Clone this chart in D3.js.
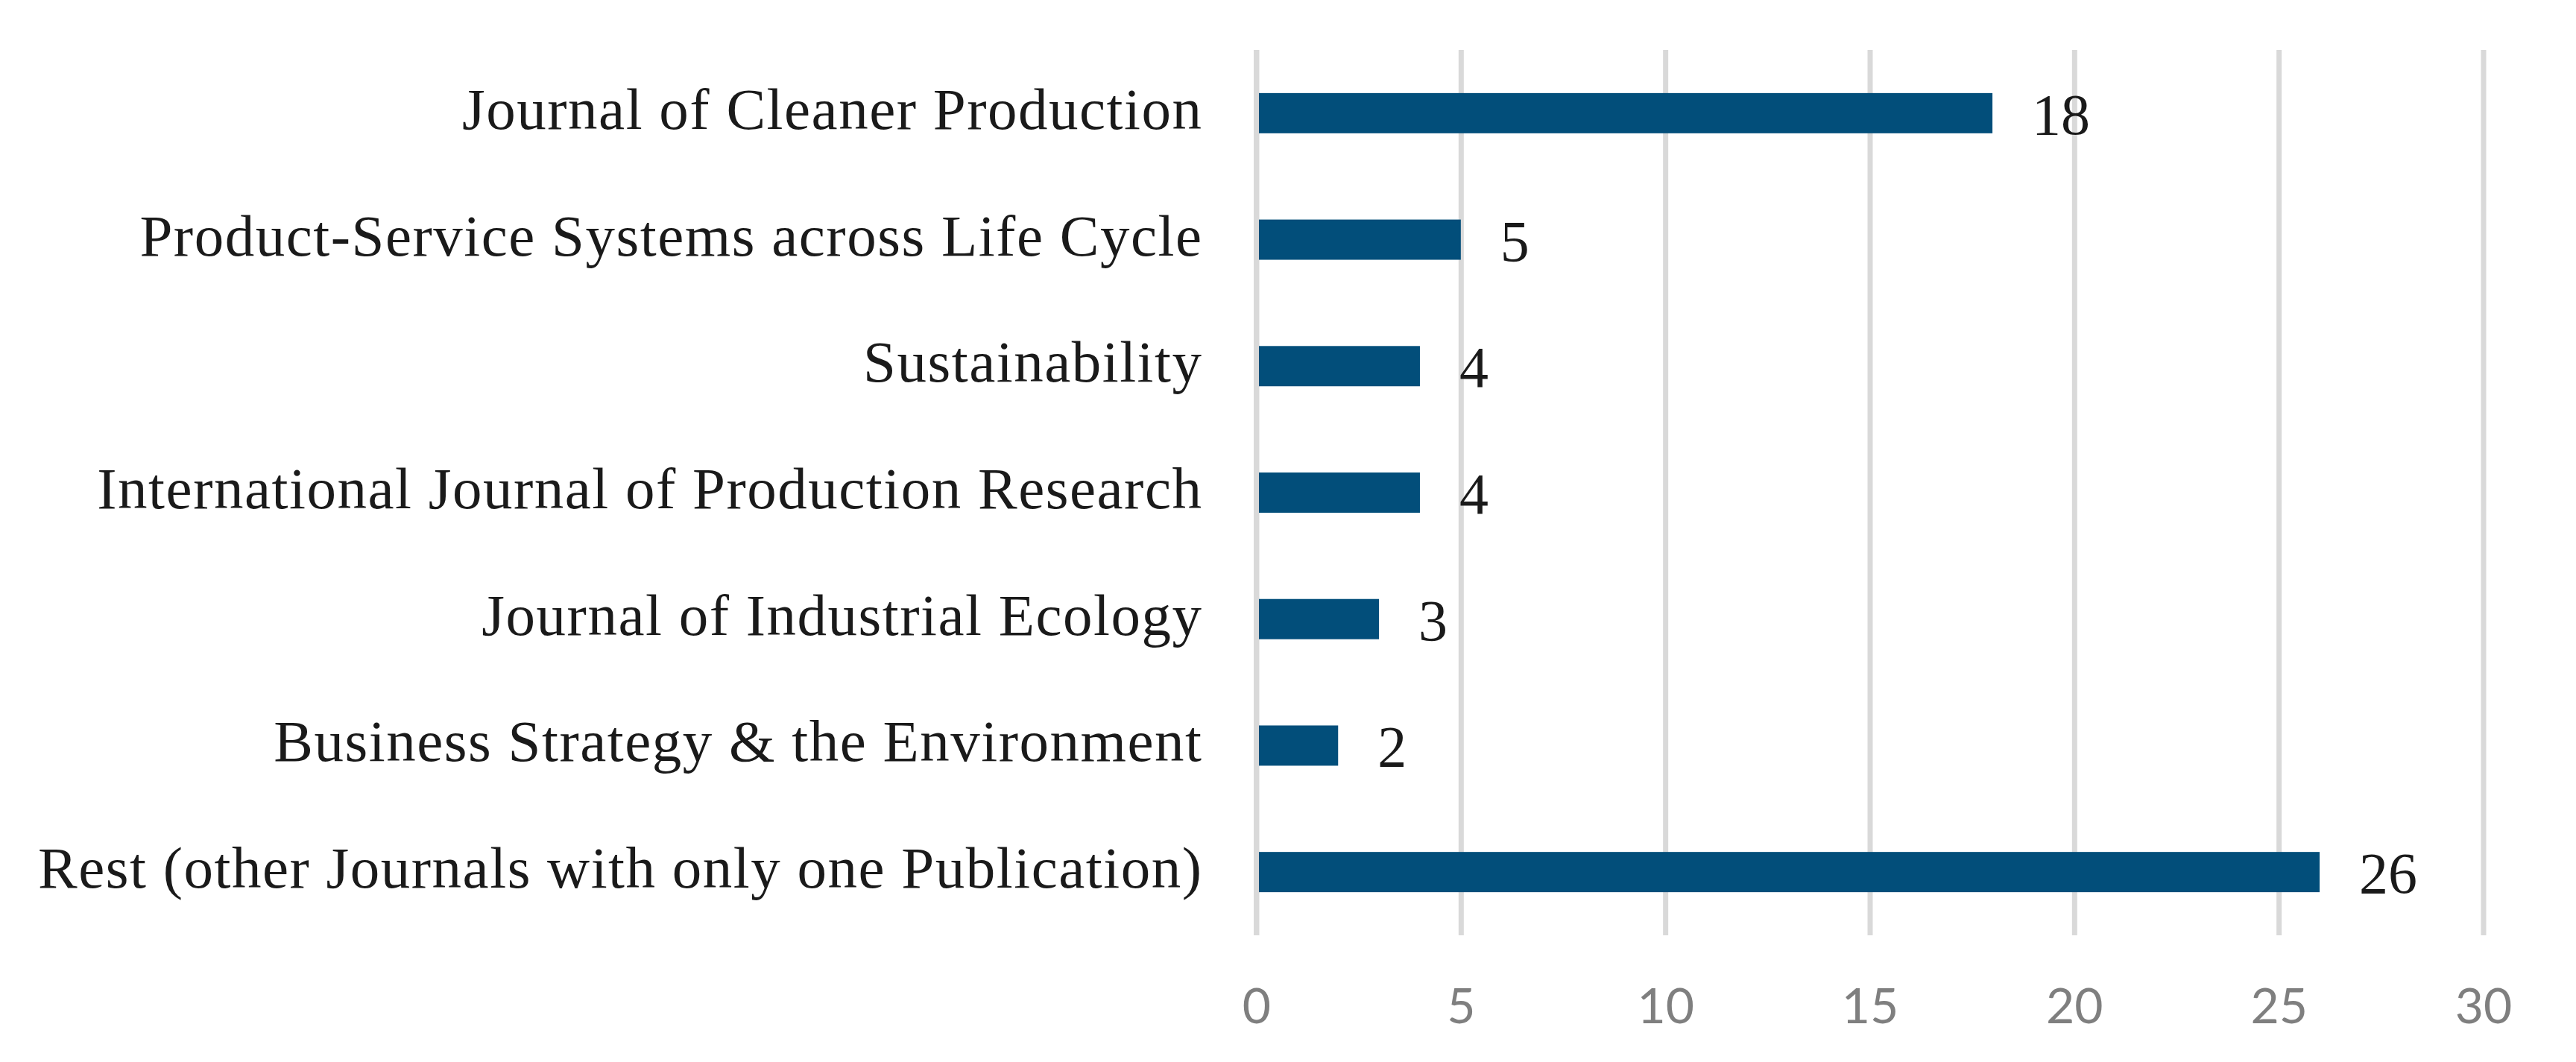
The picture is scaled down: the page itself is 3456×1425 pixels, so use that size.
<!DOCTYPE html>
<html>
<head>
<meta charset="utf-8">
<script src="https://cdn.jsdelivr.net/npm/d3@7"></script>
<style>
  body { margin: 0; background: #fff; }
</style>
</head>
<body>
<div id="main"></div>
<script>
const ctx = {
    w: 3456,
    h: 1425,
    left: 1685.5,
    right: 3331.5,
    top: 67,
    bottom: 1255,
};

// data, top to bottom
const journals = [
    "Journal of Cleaner Production",
    "Product-Service Systems across Life Cycle",
    "Sustainability",
    "International Journal of Production Research",
    "Journal of Industrial Ecology",
    "Business Strategy & the Environment",
    "Rest (other Journals with only one Publication)"
];
const counts = [18, 5, 4, 4, 3, 2, 26];
const xTicks = [0, 5, 10, 15, 20, 25, 30];

function createChart(svg) {
    let rows = journals.map((j, i) => ({name: j, value: counts[i]}));

    let x = d3.scaleLinear()
              .domain([0, 30])
              .range([ctx.left, ctx.right]);

    let y = d3.scaleBand()
              .domain(journals)
              .range([ctx.top, ctx.bottom])
              .paddingInner(0.682)
              .paddingOuter(0.341);

    // gridlines + tick labels
    let xAxis = svg.append("g")
                   .attr("transform", `translate(0, ${ctx.bottom})`)
                   .call(d3.axisBottom(x)
                           .tickValues(xTicks)
                           .tickSize(-(ctx.bottom - ctx.top))
                           .tickPadding(0));
    xAxis.select(".domain").remove();
    xAxis.selectAll("line")
         .style("stroke", "#d9d9d9")
         .style("stroke-width", 7);
    xAxis.selectAll("text")
         .attr("y", 118)
         .attr("dy", 0)
         .style("font-family", "Lato, 'Open Sans', sans-serif")
         .style("font-size", "66px")
         .style("fill", "#7f7f7f");

    svg.append("g").selectAll("rect")
       .data(rows)
       .enter().append("rect")
       .attr("x", x(0))
       .attr("y", d => y(d.name))
       .attr("width", d => x(d.value) - x(0))
       .attr("height", y.bandwidth())
       .style("fill", "#024e7a");

    // zero line sits above the bars
    svg.append("line")
       .attr("x1", x(0)).attr("x2", x(0))
       .attr("y1", ctx.top).attr("y2", ctx.bottom)
       .style("stroke", "#d9d9d9")
       .style("stroke-width", 7);

    svg.append("g").selectAll("text")
       .data(rows)
       .enter().append("text")
       .attr("x", ctx.left - 72)
       .attr("y", d => y(d.name) + y.bandwidth() / 2 + 21)
       .attr("text-anchor", "end")
       .style("font-family", "'Liberation Serif', 'Times New Roman', serif")
       .style("font-size", "79px")
       .style("letter-spacing", "1.5px")
       .style("fill", "#1a1a1a")
       .text(d => d.name);

    svg.append("g").selectAll("text")
       .data(rows)
       .enter().append("text")
       .attr("x", d => x(d.value) + 53)
       .attr("y", d => y(d.name) + y.bandwidth() / 2 + 28)
       .style("font-family", "'Liberation Serif', 'Times New Roman', serif")
       .style("font-size", "78px")
       .style("fill", "#1a1a1a")
       .text(d => d.value);
}

function createViz() {
    let svgEl = d3.select("#main").append("svg");
    svgEl.attr("width", ctx.w);
    svgEl.attr("height", ctx.h);
    createChart(svgEl);
}

createViz();
</script>
</body>
</html>
